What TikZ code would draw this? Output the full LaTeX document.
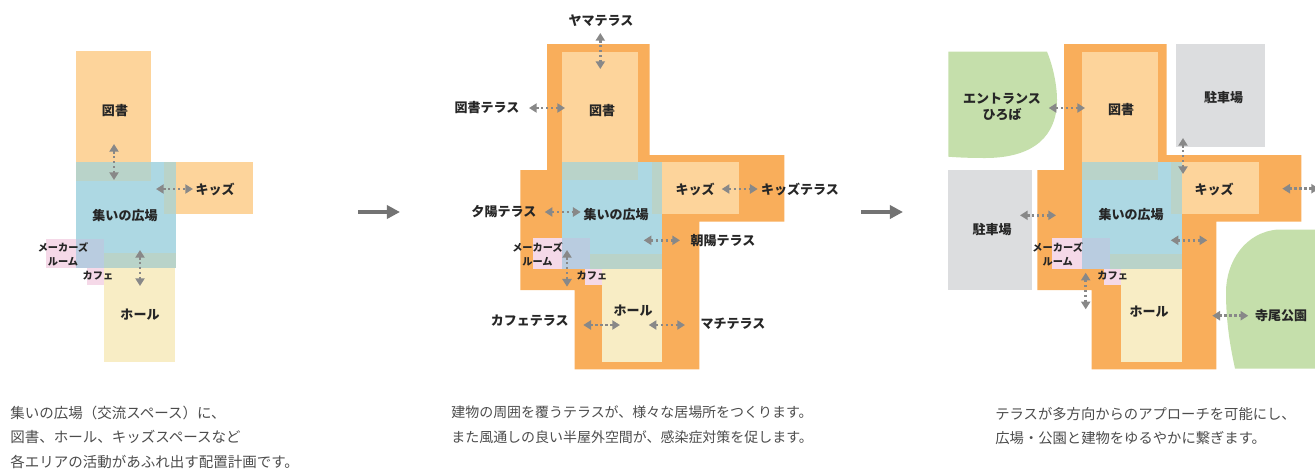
\documentclass[tikz,border=0pt]{standalone}
\usepackage{fontspec}
\usetikzlibrary{arrows.meta}
\newfontfamily\jpfont{Noto Sans CJK JP}
\definecolor{bookC}{HTML}{FDD49B}
\definecolor{plazaC}{HTML}{ADD8E3}
\definecolor{hallC}{HTML}{F8EDC5}
\definecolor{makerC}{HTML}{F5D9E8}
\definecolor{mixC}{HTML}{B9D3C9}
\definecolor{mixmC}{HTML}{B9CCE0}
\definecolor{terrC}{HTML}{F9AE5B}
\definecolor{parkC}{HTML}{C5DFAB}
\definecolor{lotC}{HTML}{DCDDDF}
\definecolor{arrC}{HTML}{888888}
\begin{document}
\begin{tikzpicture}[x=0.02cm,y=-0.02cm,
  label node/.style={font=\jpfont\bfseries\fontsize{7.4}{9}\selectfont,inner sep=0pt,align=center,text=black!85},
  small node/.style={font=\jpfont\bfseries\fontsize{5.8}{8}\selectfont,inner sep=0pt,align=center,text=black!85},
  caption node/.style={font=\jpfont\fontsize{#1}{9}\selectfont,inner sep=0pt,anchor=west,text=black!70},
  door/.style={{Triangle[length=4.4pt,width=5.2pt]}-{Triangle[length=4.4pt,width=5.2pt]},arrC,line width=1.5pt,dash pattern=on 1.3pt off 1.5pt},
  step arrow/.style={-{Triangle[length=7.5pt,width=7.5pt]},black!55,line width=2.2pt}]
\path[use as bounding box,clip] (0,0) rectangle (1315,468);

% left plan
\fill[bookC] (76,51) rectangle (151,181);
\fill[bookC] (164,162) rectangle (253,214);
\fill[hallC] (104,253) rectangle (175,362);
\fill[makerC] (46,239) rectangle (104,268);
\fill[makerC] (87,268) rectangle (104,285);
\fill[plazaC] (76,162) rectangle (176,268);
\fill[mixC] (76,162) rectangle (151,181);
\fill[mixC] (164,162) rectangle (176,214);
\fill[mixC] (104,253) rectangle (176,268);
\fill[mixmC] (76,239) rectangle (104,268);

% terrace and rooms, middle and right
\foreach \tx/\rx in {0/0,517/519.5}{
\fill[terrC,xshift=\tx*0.02cm] (547,44) -- (649.7,44) -- (649.7,155) -- (784.3,155) -- (784.3,221.7) -- (699.3,221.7) -- (699.3,369.3) -- (574.7,369.3) -- (574.7,290) -- (520.3,290) -- (520.3,170) -- (547,170) -- cycle;
\begin{scope}[xshift=\rx*0.02cm]
\fill[bookC] (562,51.7) rectangle (638.3,180.3);
\fill[bookC] (651.7,162.3) rectangle (739.3,214.3);
\fill[hallC] (601.7,254) rectangle (662,362.3);
\fill[makerC] (532.7,238.3) rectangle (562,268.7);
\fill[makerC] (584.7,268.7) rectangle (601.7,285);
\fill[plazaC] (562,162.3) rectangle (662,268.7);
\fill[mixC] (562,162.3) rectangle (638.3,180.3);
\fill[mixC] (651.7,162.3) rectangle (662,214.3);
\fill[mixC] (590,254) rectangle (662,268.7);
\fill[mixmC] (562,238.3) rectangle (590,268.7);
\end{scope}
}

% surroundings of the right plan
\fill[parkC] (948.3,51.7) -- (1047,51.7) .. controls (1053,66) and (1057,85) .. (1057,100) .. controls (1057,135) and (1035,158) .. (985,158) .. controls (970,158) and (958,157.5) .. (948.3,156.7) -- cycle;
\fill[parkC] (1315,229.5) -- (1278,229.5) .. controls (1245,232) and (1226,262) .. (1226,292) .. controls (1226,325) and (1231,350) .. (1235,368.5) -- (1315,368.5) -- cycle;
\fill[lotC] (1176,44) rectangle (1264.7,147.3);
\fill[lotC] (948.3,170) rectangle (1032,290);

% doors
\coordinate (d1a) at (114,144);
\coordinate (d1b) at (114,180);
\coordinate (d2a) at (156,189);
\coordinate (d2b) at (193,189);
\coordinate (d3a) at (140,250);
\coordinate (d3b) at (140,286);
\coordinate (d4a) at (600.3,33);
\coordinate (d4b) at (600.3,69);
\coordinate (d5a) at (529,108);
\coordinate (d5b) at (565,108);
\coordinate (d6a) at (721.7,189);
\coordinate (d6b) at (757.7,189);
\coordinate (d7a) at (544.7,212);
\coordinate (d7b) at (580.7,212);
\coordinate (d8a) at (643.7,240.3);
\coordinate (d8b) at (680,240.3);
\coordinate (d9a) at (567,250);
\coordinate (d9b) at (567,286.7);
\coordinate (d10a) at (583.3,325);
\coordinate (d10b) at (620,325);
\coordinate (d11a) at (648.7,325);
\coordinate (d11b) at (685,325);
\coordinate (d12a) at (1048.7,108);
\coordinate (d12b) at (1085,108);
\coordinate (d13a) at (1183,138);
\coordinate (d13b) at (1183,174);
\coordinate (d14a) at (1282.3,188.7);
\coordinate (d14b) at (1319,188.7);
\coordinate (d15a) at (1020,215.3);
\coordinate (d15b) at (1056,215.3);
\coordinate (d16a) at (1170.7,240.3);
\coordinate (d16b) at (1207.3,240.3);
\coordinate (d17a) at (1085.7,272.7);
\coordinate (d17b) at (1085.7,309.3);
\coordinate (d18a) at (1212.3,315.7);
\coordinate (d18b) at (1248.3,315.7);
\foreach \i in {1,...,18}
  \draw[door] (d\i a) -- (d\i b);

% steps between the plans
\coordinate (s1a) at (358,212);
\coordinate (s1b) at (400,212);
\coordinate (s2a) at (861,212);
\coordinate (s2b) at (903,212);
\draw[step arrow] (s1a) -- (s1b);
\draw[step arrow] (s2a) -- (s2b);

% left labels
\node[label node] (book1) at (115,111) {図書};
\node[label node] (kids1) at (215,189) {キッズ};
\node[label node] (plaza1) at (125,216) {集いの広場};
\node[label node] (hall1) at (140,315) {ホール};
\node[small node] (maker1) at (63,254) {メーカーズ\\ルーム};
\node[small node] (cafe1) at (98,276) {カフェ};

% middle labels
\node[label node] (book2) at (602,111) {図書};
\node[label node] (kids2) at (695,189) {キッズ};
\node[label node] (plaza2) at (616,215) {集いの広場};
\node[label node] (hall2) at (633,311) {ホール};
\node[small node] (maker2) at (537.5,254) {メーカーズ\\ルーム};
\node[small node] (cafe2) at (592,276) {カフェ};
\node[label node] (yama) at (601,21) {ヤマテラス};
\node[label node] (bookT) at (487,108) {図書テラス};
\node[label node] (kidsT) at (800,189) {キッズテラス};
\node[label node] (yuhi) at (504,212) {夕陽テラス};
\node[label node] (asahi) at (723,241) {朝陽テラス};
\node[label node] (cafeT) at (529.7,321) {カフェテラス};
\node[label node] (machi) at (733,324) {マチテラス};

% right labels
\node[label node] (book3) at (1121,110) {図書};
\node[label node] (kids3) at (1214,189) {キッズ};
\node[label node] (plaza3) at (1131,215) {集いの広場};
\node[label node] (hall3) at (1149,312) {ホール};
\node[small node] (maker3) at (1057.7,254) {メーカーズ\\ルーム};
\node[small node] (cafe3) at (1112.7,276) {カフェ};
\node[label node] (entr) at (1002,107) {エントランス\\ひろば};
\node[label node] (lotA) at (1223.7,97.7) {駐車場};
\node[label node] (lotB) at (992,230) {駐車場};
\node[label node] (terao) at (1281,315.7) {寺尾公園};

% captions
\node[caption node=8.25] (cap1a) at (10,413) {集いの広場（交流スペース）に、};
\node[caption node=8.25] (cap1b) at (10,437) {図書、ホール、キッズスペースなど};
\node[caption node=8.25] (cap1c) at (10,462) {各エリアの活動があふれ出す配置計画です。};
\node[caption node=7.95] (cap2a) at (451,412) {建物の周囲を覆うテラスが、様々な居場所をつくります。};
\node[caption node=7.95] (cap2b) at (451,437) {また風通しの良い半屋外空間が、感染症対策を促します。};
\node[caption node=8.15] (cap3a) at (995,414) {テラスが多方向からのアプローチを可能にし、};
\node[caption node=8.15] (cap3b) at (995,438) {広場・公園と建物をゆるやかに繋ぎます。};
\end{tikzpicture}
\end{document}
